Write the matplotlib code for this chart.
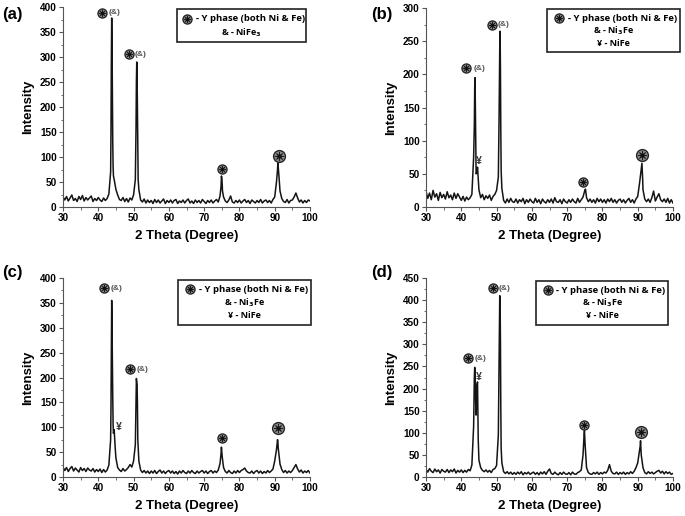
import numpy as np
import matplotlib
matplotlib.use('Agg')
import matplotlib.pyplot as plt
from matplotlib.patches import Rectangle

plt.rcParams['font.family'] = ['Liberation Sans', 'DejaVu Sans']
plt.rcParams['font.weight'] = 'bold'
plt.rcParams['mathtext.default'] = 'bf'

# 2 theta grid every 0.5 degree, 30..100
two_theta = np.arange(30, 100.01, 0.5)

# (a)
a_base = [20, 14, 21, 12, 18, 24, 13, 17, 11, 21,
          15, 23, 12, 19, 14, 18, 22, 11, 17, 13,
          19, 14, 11, 18, 13, 17, 26, 70, 220, 55,
          35, 24, 15, 13, 19, 11, 17, 10, 18, 14,
          24, 55, 260, 35, 14, 10, 16, 8, 14, 9,
          13, 7, 15, 9, 14, 8, 12, 16, 7, 13,
          9, 14, 8, 13, 15, 7, 12, 9, 14, 8,
          13, 16, 8, 12, 7, 14, 9, 13, 8, 15,
          11, 7, 13, 9, 14, 8, 12, 15, 10, 22,
          58, 20, 12, 9, 14, 22, 10, 8, 13, 9,
          14, 8, 12, 15, 9, 13, 7, 14, 11, 8,
          13, 9, 15, 8, 12, 14, 9, 13, 8, 15,
          20, 50, 80, 32, 17, 11, 9, 15, 8, 13,
          14, 20, 28, 18, 10, 14, 8, 13, 9, 14,
          12]
a_peak_x = [43.6, 43.7, 43.8, 43.9, 44.1, 44.2, 44.3,
            50.7, 50.8, 50.9, 51.1, 51.2, 51.3,
            74.8, 74.9, 75.1, 75.2, 90.8, 90.9, 91.2]
a_peak_y = [150, 290, 378, 320, 130, 80, 62,
            160, 250, 290, 190, 100, 55,
            42, 62, 48, 32, 75, 88, 62]

# (b)
b_base = [24, 13, 21, 11, 25, 15, 20, 10, 22, 14,
          19, 12, 23, 14, 18, 11, 21, 13, 20, 15,
          10, 16, 9, 15, 11, 14, 19, 75, 150, 55,
          26, 14, 19, 11, 17, 13, 18, 10, 16, 19,
          25, 45, 265, 28, 10, 6, 12, 7, 13, 8,
          7, 12, 6, 11, 8, 13, 5, 11, 7, 12,
          8, 6, 13, 7, 11, 5, 12, 8, 6, 11,
          7, 12, 6, 14, 8, 7, 11, 5, 12, 8,
          6, 11, 7, 12, 8, 6, 13, 7, 11, 15,
          25, 14, 8, 12, 7, 11, 6, 13, 8, 12,
          7, 11, 6, 12, 8, 13, 7, 11, 6, 10,
          12, 7, 11, 6, 10, 13, 7, 11, 6, 12,
          16, 35, 58, 26, 12, 8, 12, 7, 14, 24,
          9, 15, 20, 11, 8, 12, 7, 13, 6, 11,
          6]
b_peak_x = [43.7, 43.8, 43.9, 44.1, 44.2, 44.4, 44.6, 44.8,
            50.7, 50.8, 50.9, 51.1, 51.2, 51.3,
            75.2, 91.2, 91.4]
b_peak_y = [125, 180, 195, 95, 50, 52, 60, 42,
            130, 195, 240, 205, 115, 55,
            27, 66, 42]

# (c)
c_base = [20, 13, 19, 11, 17, 21, 12, 18, 14, 10,
          19, 13, 17, 11, 18, 14, 12, 17, 10, 15,
          11, 16, 9, 15, 10, 14, 24, 75, 220, 95,
          38, 19, 14, 11, 17, 12, 15, 19, 25, 20,
          32, 65, 185, 32, 14, 9, 13, 8, 12, 7,
          12, 8, 13, 7, 11, 14, 8, 12, 7, 11,
          13, 8, 12, 7, 11, 6, 12, 8, 13, 9,
          7, 12, 8, 13, 9, 7, 12, 8, 11, 13,
          8, 12, 7, 11, 13, 8, 12, 9, 14, 27,
          50, 19, 11, 8, 13, 9, 7, 12, 8, 13,
          9, 13, 15, 18, 12, 9, 8, 12, 7, 11,
          13, 8, 12, 7, 11, 8, 13, 9, 12, 16,
          32, 55, 58, 26, 15, 9, 13, 8, 12, 9,
          13, 19, 25, 16, 10, 14, 8, 12, 9, 13,
          8]
c_peak_x = [43.6, 43.7, 43.8, 43.9, 44.1, 44.2, 44.3, 44.4, 44.6, 44.8,
            50.7, 50.8, 51.1, 51.2,
            74.8, 74.9, 75.1, 90.8, 90.9]
c_peak_y = [140, 260, 355, 300, 160, 105, 88, 92, 82, 58,
            155, 198, 145, 75,
            48, 60, 42, 75, 70]

# (d)
d_base = [17, 11, 19, 13, 10, 18, 12, 16, 9, 17,
          13, 11, 17, 10, 16, 12, 18, 9, 15, 11,
          16, 10, 15, 11, 17, 14, 27, 115, 200, 210,
          38, 21, 15, 12, 16, 11, 15, 10, 17, 19,
          26, 95, 400, 32, 12, 8, 12, 7, 11, 6,
          10, 6, 11, 7, 12, 5, 10, 7, 11, 6,
          9, 11, 6, 10, 5, 11, 7, 12, 6, 13,
          18, 8, 6, 11, 7, 5, 10, 6, 11, 7,
          6, 10, 5, 11, 7, 6, 10, 12, 16, 50,
          90, 21, 10, 7, 6, 10, 7, 11, 6, 10,
          7, 11, 9, 15, 28, 13, 8, 7, 11, 6,
          10, 7, 11, 6, 10, 7, 12, 8, 13, 21,
          32, 60, 50, 21, 10, 7, 12, 8, 11, 7,
          10, 13, 15, 9, 13, 7, 12, 8, 11, 6,
          8]
d_peak_x = [43.6, 43.7, 43.8, 43.9, 44.1, 44.2, 44.3, 44.4, 44.6, 44.7, 44.8,
            50.7, 50.8, 50.9, 51.1, 51.2, 51.3,
            74.8, 74.9, 75.1, 90.7, 90.8]
d_peak_y = [165, 225, 248, 240, 160, 140, 165, 200, 215, 155, 85,
            255, 360, 410, 305, 155, 65,
            95, 105, 72, 70, 82]

panel_labels = ['(a)', '(b)', '(c)', '(d)']
y_max = [400, 300, 400, 450]
legend_lines = [
    ['& - NiFe$_3$'],
    ['& - Ni$_3$Fe', '¥ - NiFe'],
    ['& - Ni$_3$Fe', '¥ - NiFe'],
    ['& - Ni$_3$Fe', '¥ - NiFe'],
]
# phase symbols: (x, y, big?)
symbols = [
    [(41.0, 389, False), (48.7, 306, False), (75.0, 76, False), (91.2, 102, True)],
    [(41.2, 209, False), (48.8, 275, False), (74.6, 38, False), (91.1, 78, True)],
    [(41.7, 379, False), (49.0, 217, False), (75.0, 78, False), (90.8, 99, True)],
    [(41.8, 268, False), (48.9, 427, False), (74.9, 117, False), (91.0, 102, True)],
]
amp_labels = [
    [(43.0, 389), (50.4, 306)],
    [(43.4, 209), (50.4, 275)],
    [(43.6, 379), (50.8, 217)],
    [(43.8, 268), (50.6, 427)],
]
yen_labels = [None, (45.1, 70), (45.7, 101), (45.1, 225)]
legend_box = [(0.462, 0.825, 0.522, 0.165), (0.489, 0.777, 0.54, 0.216),
              (0.467, 0.764, 0.536, 0.226), (0.445, 0.764, 0.535, 0.221)]

series = [(a_base, a_peak_x, a_peak_y), (b_base, b_peak_x, b_peak_y),
          (c_base, c_peak_x, c_peak_y), (d_base, d_peak_x, d_peak_y)]

W, H = 685, 516
axes_px = [(63, 7, 207), (426, 8, 207), (63, 278, 477), (426, 278, 477)]
label_px = [(12, 15), (382, 15), (12, 272), (382, 272)]


def draw_sym(ax, x, y, ms, transform=None):
    kw = {} if transform is None else {'transform': transform}
    ax.plot([x], [y], marker='o', ms=ms, mfc='#8a8a8a', mec='#262626',
            mew=1.0, ls='none', clip_on=False, **kw)
    ax.plot([x], [y], marker=(8, 2, 0), ms=ms * 0.7, color='#1a1a1a',
            mew=0.6, ls='none', clip_on=False, **kw)
    ax.plot([x], [y], marker='o', ms=ms * 0.25, color='#111111',
            ls='none', clip_on=False, **kw)


fig = plt.figure(figsize=(W / 100, H / 100), dpi=100)

for i in range(4):
    left, top, bottom = axes_px[i]
    ax = fig.add_axes([left / W, (H - bottom) / H, 247 / W, (bottom - top) / H])
    base, px, py = series[i]
    x = np.concatenate([two_theta, px])
    y = np.concatenate([np.array(base, float), py])
    order = np.argsort(x)
    ax.plot(x[order], y[order], color='#141414', lw=1.1)

    ax.set_xlim(30, 100)
    ax.set_ylim(0, y_max[i])
    ax.set_xticks(np.arange(30, 101, 10))
    ax.set_xticks(np.arange(35, 100, 10), minor=True)
    ax.set_yticks(np.arange(0, y_max[i] + 1, 50))
    ax.set_yticks(np.arange(25, y_max[i], 50), minor=True)
    ax.tick_params(which='major', direction='out', length=3, width=0.8,
                   labelsize=7.2, pad=1.5, color='#555555')
    ax.tick_params(which='minor', direction='out', length=1.8, width=0.6,
                   color='#555555')
    for s in ['top', 'right']:
        ax.spines[s].set_visible(False)
    for s in ['left', 'bottom']:
        ax.spines[s].set_color('#555555')
        ax.spines[s].set_linewidth(0.8)
    for lab in ax.get_xticklabels() + ax.get_yticklabels():
        lab.set_fontweight('bold')

    ax.set_xlabel('2 Theta (Degree)', fontsize=9.5, fontweight='bold', labelpad=5)
    ax.set_ylabel('Intensity', fontsize=9.5, fontweight='bold', labelpad=4)

    for sx, sy, big in symbols[i]:
        draw_sym(ax, sx, sy, 8.5 if big else 6.5)
    for tx, ty in amp_labels[i]:
        ax.text(tx, ty, '(&)', fontsize=6, color='#555555', va='center',
                ha='left', fontweight='bold')
    if yen_labels[i] is not None:
        ax.text(yen_labels[i][0], yen_labels[i][1], '¥', fontsize=7.5,
                color='#333333', ha='center', va='center', fontweight='bold')

    bx, by, bw, bh = legend_box[i]
    ax.add_patch(Rectangle((bx, by), bw, bh, transform=ax.transAxes,
                           fill=False, ec='#222222', lw=1.2, clip_on=False))
    cx = bx + bw / 2
    lines = ['- Y phase (both Ni & Fe)'] + legend_lines[i]
    n = len(lines)
    step = bh / (n + 0.4)
    for k, txt in enumerate(lines):
        ty = by + bh - step * (k + 0.7)
        if k == 0:
            ax.text(cx + 0.035, ty, txt, transform=ax.transAxes, fontsize=6.8,
                    ha='center', va='center', fontweight='bold',
                    family=['Open Sans', 'DejaVu Sans'])
            draw_sym(ax, cx - 0.22, ty, 6.5, transform=ax.transAxes)
        else:
            ax.text(cx, ty, txt, transform=ax.transAxes, fontsize=6.5,
                    ha='center', va='center', fontweight='bold',
                    family=['Open Sans', 'DejaVu Sans'])

    lx, ly = label_px[i]
    fig.text(lx / W, 1 - ly / H, panel_labels[i], fontsize=12,
             fontweight='bold', ha='center', va='center')

fig.savefig('out.png', dpi=100)
